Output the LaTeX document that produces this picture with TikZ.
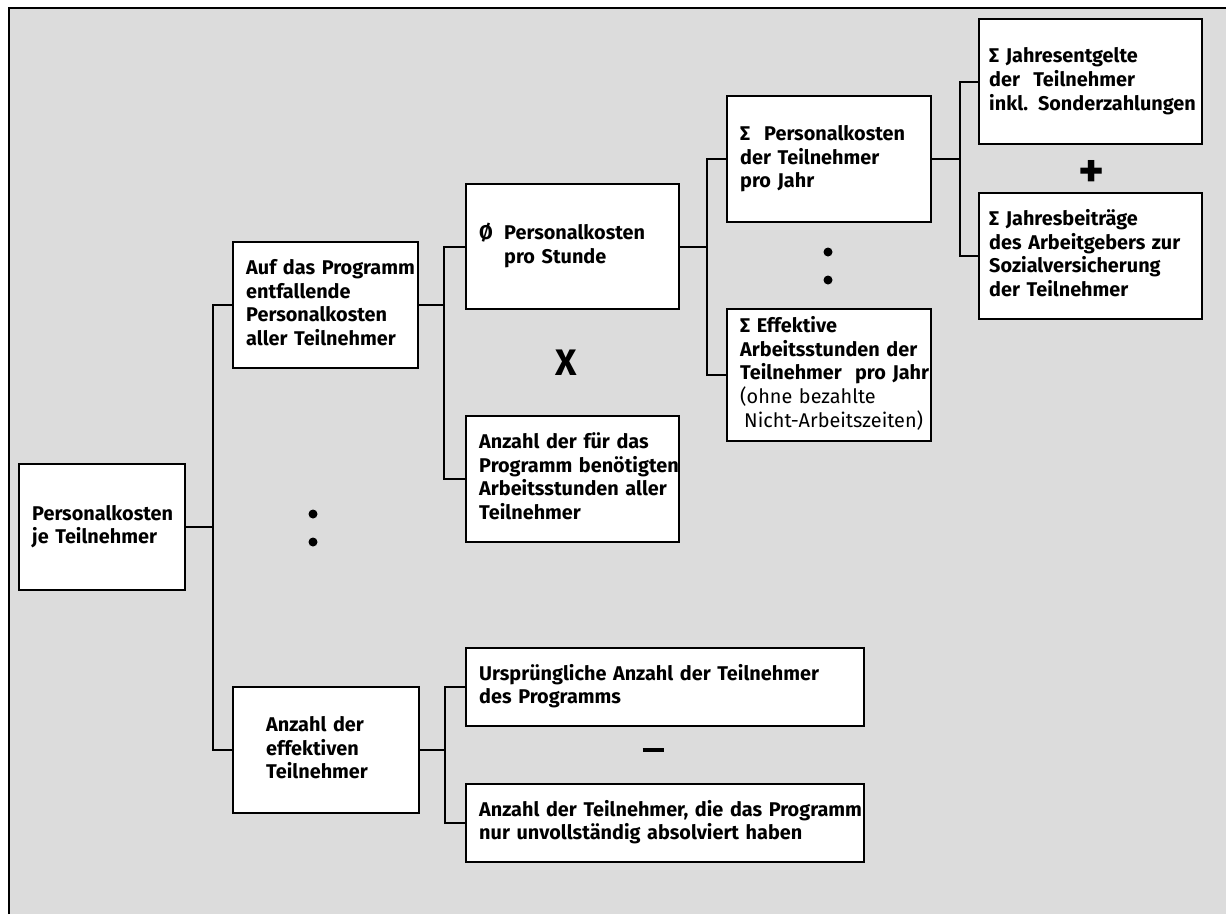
\documentclass[tikz,border=0pt]{standalone}
\usepackage{fontspec}
\setmainfont{Fira Sans}
\usepackage{tikz}
\usetikzlibrary{calc,positioning}
\newdimen\pxu \pxu=0.02cm
% lines of a box, kept unbroken
\newcommand\kl[1]{\begin{tabular}{@{}l@{}}#1\end{tabular}}

\begin{document}
\begin{tikzpicture}[x=0.02cm,y=-0.02cm,
  kbox/.style={draw=black, fill=white, line width=1.4pt, align=left,
    anchor=north west, inner xsep=13\pxu, inner ysep=2pt,
    font=\bfseries\fontsize{11.3}{13.6}\selectfont},
  link/.style={line width=1.4pt},
  op/.style={inner sep=0pt, font=\bfseries\fontsize{28}{28}\selectfont}]
% Cost tree: per-participant staff cost, broken down left to right.
% Coordinates are pixels of the original sheet, y grows downward.
\definecolor{sheet}{RGB}{220, 220, 220}
\useasboundingbox (0,0) rectangle (1226,914);
\fill[sheet] (9,8) rectangle (1226,914);
\draw[line width=1.4pt] (9,914) -- (9,8) -- (1226,8);

% boxes
\node[kbox, text width=140\pxu, minimum height=126\pxu] (root) at (18,463)
  {\kl{Personalkosten\\je Teilnehmer}};
\node[kbox, text width=159\pxu, minimum height=126\pxu] (prog) at (232,241)
  {\kl{Auf das Programm\\entfallende\\Personalkosten\\aller Teilnehmer}};
\node[kbox, text width=120\pxu, inner xsep=33\pxu, minimum height=126\pxu] (anz) at (232,686)
  {\kl{Anzahl der\\effektiven\\Teilnehmer}};
\node[kbox, text width=187\pxu, minimum height=125\pxu] (stunde) at (465,183)
  {\kl{\makebox[25\pxu][l]{Ø}Personalkosten\\\hspace*{25\pxu}pro Stunde}};
\node[kbox, text width=187\pxu, minimum height=126\pxu] (arbstd) at (465,415)
  {\kl{Anzahl der für das\\Programm benötigten\\Arbeitsstunden aller\\Teilnehmer}};
\node[kbox, text width=178\pxu, minimum height=126\pxu] (pkj) at (726,95)
  {\kl{\makebox[24\pxu][l]{Σ}Personalkosten\\der Teilnehmer\\pro Jahr}};
\node[kbox, text width=178\pxu, minimum height=132\pxu] (eff) at (726,308)
  {\kl{Σ Effektive\\Arbeitsstunden der\\Teilnehmer\ \ pro Jahr\\
   \mdseries(ohne bezahlte\\\mdseries\hspace*{4\pxu}Nicht-Arbeitszeiten)}};
\node[kbox, text width=203\pxu, inner xsep=10\pxu, minimum height=125\pxu] (entg) at (978,18)
  {\kl{Σ Jahresentgelte\\der\ \ Teilnehmer\\inkl. Sonderzahlungen}};
\node[kbox, text width=203\pxu, inner xsep=10\pxu, minimum height=126\pxu] (beitr) at (978,192)
  {\kl{Σ Jahresbeiträge\\des Arbeitgebers zur\\Sozialversicherung\\der Teilnehmer}};
\node[kbox, text width=372\pxu, minimum height=78\pxu] (ursp) at (465,647)
  {\kl{Ursprüngliche Anzahl der Teilnehmer\\des Programms}};
\node[kbox, text width=372\pxu, minimum height=78\pxu] (unv) at (465,783)
  {\kl{Anzahl der Teilnehmer, die das Programm\\nur unvollständig absolviert haben}};

% operators
\node[op, font=\fontsize{21}{21}\selectfont\bfseries] (mal) at (566,363) {X};
\node[op] (plus) at (1092,174) {+};
\node[op] (minus) at (653,750) {\rule{21\pxu}{4\pxu}};

% continuation dots
\foreach \x/\y in {313/514, 313/542, 828/252, 828/280} {
  \fill (\x,\y) circle (4.5);
}

% connectors
\draw[link] (prog.west) -- ++(-19,0) coordinate (t1) |- (anz.west);
\draw[link] (root.east) -- (root.east -| t1);
\draw[link] (stunde.west) -- ++(-21,0) coordinate (t2) |- (arbstd.west);
\draw[link] (prog.east) -- (prog.east -| t2);
\draw[link] (pkj.west) -- ++(-19,0) coordinate (t3) |- (eff.west);
\draw[link] (stunde.east) -- (stunde.east -| t3);
\draw[link] (entg.west) -- ++(-18,0) coordinate (t4) |- (beitr.west);
\draw[link] (pkj.east) -- (pkj.east -| t4);
\draw[link] (ursp.west) -- ++(-20,0) coordinate (t5) |- (unv.west);
\draw[link] (anz.east) -- (anz.east -| t5);
\end{tikzpicture}
\end{document}
